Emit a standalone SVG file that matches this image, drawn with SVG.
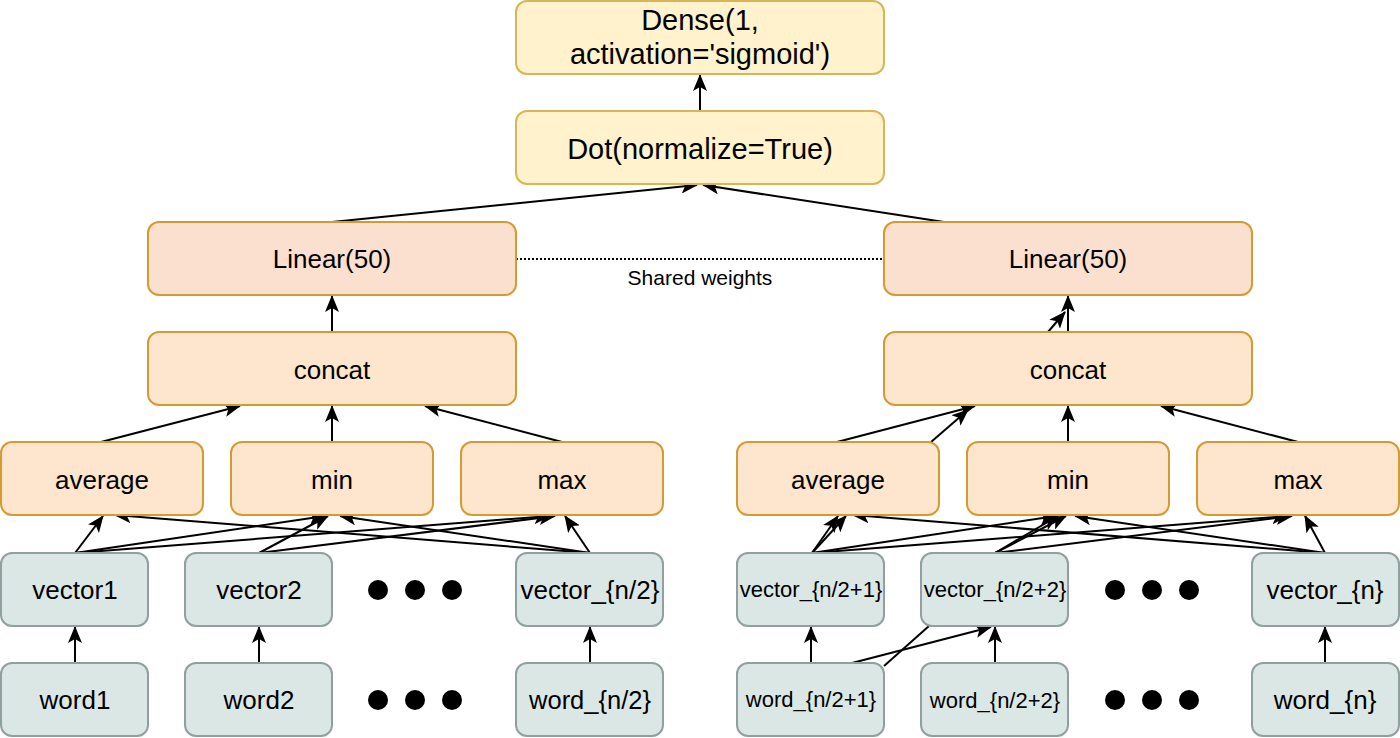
<svg xmlns="http://www.w3.org/2000/svg" width="1400" height="738" viewBox="0 0 1400 738">
<style>
.y{fill:#fff2cc;stroke:#d6b656;stroke-width:2}
.o{fill:#fde6cd;stroke:#d69a33;stroke-width:2}
.l{fill:#fbe0cf;stroke:#d69a33;stroke-width:2}
.g{fill:#dbe7e5;stroke:#8fa09e;stroke-width:2}
text{font-family:"Liberation Sans",Arial,sans-serif;fill:#000;text-anchor:middle}
.t{font-size:26px}
.b{font-size:29px}
.s{font-size:22px}
.e{fill:none;stroke:#000;stroke-width:2}
.a{marker-end:url(#ar)}
</style>
<defs>
<marker id="ar" markerUnits="userSpaceOnUse" markerWidth="17" markerHeight="14" refX="16" refY="7" orient="auto">
<path d="M0,0 L17,7 L0,14 L4,7 Z" fill="#000"/>
</marker>
</defs>
<g id="connectors">
<line class="e a" x1="700" y1="111" x2="700" y2="75"/>
<line class="e a" x1="332" y1="222" x2="697" y2="185"/>
<line class="e a" x1="944" y1="222" x2="703" y2="185"/>
<line class="e" x1="516" y1="259" x2="884" y2="259" stroke-dasharray="2,2"/>
<line class="e a" x1="332" y1="332" x2="332" y2="296"/>
<line class="e a" x1="1068" y1="332" x2="1068" y2="296"/>
<line class="e a" x1="1048" y1="332" x2="1065" y2="312"/>
<line class="e a" x1="101" y1="442" x2="240" y2="406"/>
<line class="e a" x1="332" y1="442" x2="332" y2="406"/>
<line class="e a" x1="562" y1="442" x2="425" y2="406"/>
<line class="e a" x1="837" y1="442" x2="975" y2="406"/>
<line class="e a" x1="931" y1="442" x2="968" y2="410"/>
<line class="e a" x1="1068" y1="442" x2="1068" y2="406"/>
<line class="e a" x1="1298" y1="442" x2="1161" y2="406"/>
<line class="e a" x1="75" y1="553" x2="103" y2="516"/>
<line class="e a" x1="75" y1="553" x2="325" y2="516"/>
<line class="e a" x1="75" y1="553" x2="550" y2="516"/>
<line class="e a" x1="259" y1="553" x2="328" y2="516"/>
<line class="e a" x1="259" y1="553" x2="555" y2="516"/>
<line class="e a" x1="590" y1="553" x2="115" y2="515"/>
<line class="e a" x1="590" y1="553" x2="340" y2="516"/>
<line class="e a" x1="590" y1="553" x2="565" y2="516"/>
<line class="e a" x1="812" y1="553" x2="838" y2="516"/>
<line class="e a" x1="812" y1="553" x2="846" y2="516"/>
<line class="e a" x1="812" y1="553" x2="1056" y2="516"/>
<line class="e a" x1="812" y1="553" x2="1288" y2="516"/>
<line class="e a" x1="995" y1="553" x2="1058" y2="516"/>
<line class="e a" x1="995" y1="553" x2="1066" y2="516"/>
<line class="e a" x1="995" y1="553" x2="1292" y2="516"/>
<line class="e a" x1="1325" y1="553" x2="853" y2="515"/>
<line class="e a" x1="1325" y1="553" x2="1075" y2="516"/>
<line class="e a" x1="1325" y1="553" x2="1305" y2="516"/>
<line class="e a" x1="75" y1="663" x2="75" y2="627"/>
<line class="e a" x1="259" y1="663" x2="259" y2="627"/>
<line class="e a" x1="590" y1="663" x2="590" y2="627"/>
<line class="e a" x1="811" y1="663" x2="811" y2="627"/>
<line class="e a" x1="995" y1="663" x2="995" y2="627"/>
<line class="e a" x1="1325" y1="663" x2="1325" y2="627"/>
<line class="e a" x1="852" y1="663" x2="991" y2="627"/>
<line class="e" x1="884" y1="666" x2="929" y2="626"/>
</g>
<g id="dense"><rect class="y" x="516" y="1" width="368" height="73" rx="11"/><text class="b" x="700" y="30">Dense(1,</text><text class="b" x="700" y="64">activation='sigmoid')</text></g>
<g id="dot"><rect class="y" x="516" y="111" width="368" height="73" rx="11"/><text class="b" x="700" y="159">Dot(normalize=True)</text></g>
<g id="linear-left"><rect class="l" x="148" y="222" width="368" height="73" rx="11"/><text class="t" x="332" y="268">Linear(50)</text></g>
<g id="linear-right"><rect class="l" x="884" y="222" width="368" height="73" rx="11"/><text class="t" x="1068" y="268">Linear(50)</text></g>
<g id="shared-label"><text x="700" y="285" style="font-size:21px">Shared weights</text></g>
<g id="concat-left"><rect class="o" x="148" y="332" width="368" height="73" rx="11"/><text class="t" x="332" y="379">concat</text></g>
<g id="concat-right"><rect class="o" x="884" y="332" width="368" height="73" rx="11"/><text class="t" x="1068" y="379">concat</text></g>
<g id="average-left"><rect class="o" x="1" y="442" width="202" height="73" rx="11"/><text class="t" x="102" y="489">average</text></g>
<g id="min-left"><rect class="o" x="231" y="442" width="202" height="73" rx="11"/><text class="t" x="332" y="489">min</text></g>
<g id="max-left"><rect class="o" x="461" y="442" width="202" height="73" rx="11"/><text class="t" x="562" y="489">max</text></g>
<g id="average-right"><rect class="o" x="737" y="442" width="202" height="73" rx="11"/><text class="t" x="838" y="489">average</text></g>
<g id="min-right"><rect class="o" x="967" y="442" width="202" height="73" rx="11"/><text class="t" x="1068" y="489">min</text></g>
<g id="max-right"><rect class="o" x="1197" y="442" width="202" height="73" rx="11"/><text class="t" x="1298" y="489">max</text></g>
<g id="vector1"><rect class="g" x="1" y="553" width="147" height="73" rx="11"/><text class="t" x="75" y="599">vector1</text></g>
<g id="vector2"><rect class="g" x="185" y="553" width="147" height="73" rx="11"/><text class="t" x="259" y="599">vector2</text></g>
<g id="vector-n2"><rect class="g" x="516" y="553" width="147" height="73" rx="11"/><text class="t" x="590" y="599">vector_{n/2}</text></g>
<g id="vector-n2p1"><rect class="g" x="737" y="553" width="147" height="73" rx="11"/><text class="s" x="811" y="597">vector_{n/2+1}</text></g>
<g id="vector-n2p2"><rect class="g" x="921" y="553" width="147" height="73" rx="11"/><text class="s" x="995" y="597">vector_{n/2+2}</text></g>
<g id="vector-n"><rect class="g" x="1252" y="553" width="147" height="73" rx="11"/><text class="t" x="1325" y="599">vector_{n}</text></g>
<g id="word1"><rect class="g" x="1" y="663" width="147" height="73" rx="11"/><text class="t" x="75" y="709">word1</text></g>
<g id="word2"><rect class="g" x="185" y="663" width="147" height="73" rx="11"/><text class="t" x="259" y="709">word2</text></g>
<g id="word-n2"><rect class="g" x="516" y="663" width="147" height="73" rx="11"/><text class="t" x="590" y="709" style="font-size:25.5px">word_{n/2}</text></g>
<g id="word-n2p1"><rect class="g" x="737" y="663" width="147" height="73" rx="11"/><text class="s" x="811" y="707">word_{n/2+1}</text></g>
<g id="word-n2p2"><rect class="g" x="921" y="663" width="147" height="73" rx="11"/><text class="s" x="995" y="708">word_{n/2+2}</text></g>
<g id="word-n"><rect class="g" x="1252" y="663" width="147" height="73" rx="11"/><text class="t" x="1325" y="709">word_{n}</text></g>
<g id="dots">
<circle cx="378" cy="590" r="10"/><circle cx="415" cy="590" r="10"/><circle cx="452" cy="590" r="10"/>
<circle cx="378" cy="700" r="10"/><circle cx="415" cy="700" r="10"/><circle cx="452" cy="700" r="10"/>
<circle cx="1115" cy="590" r="10"/><circle cx="1152" cy="590" r="10"/><circle cx="1189" cy="590" r="10"/>
<circle cx="1115" cy="700" r="10"/><circle cx="1152" cy="700" r="10"/><circle cx="1189" cy="700" r="10"/>
</g>
</svg>
